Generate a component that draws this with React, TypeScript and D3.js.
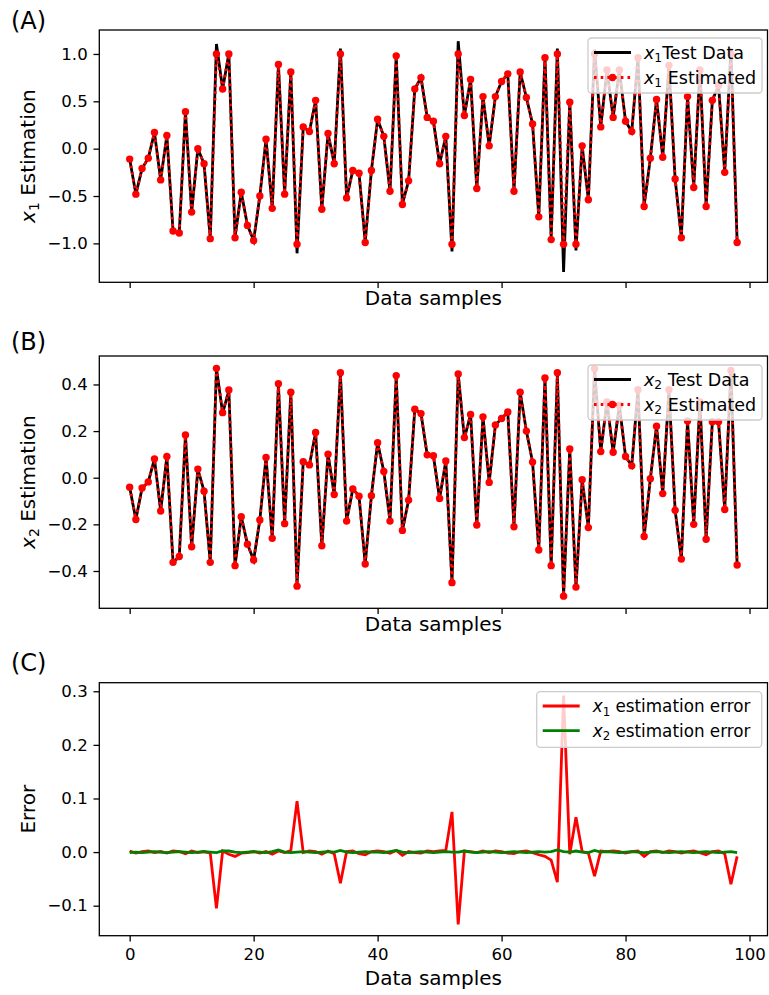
import React, { useRef, useEffect } from "react";
import * as d3 from "d3";

// sample index on the x axis
const sampleIdx = Array.from({ length: 99 }, (_, i) => i);

const xTicks = [0, 20, 40, 60, 80, 100];
const x1Ticks = [-1, -0.5, 0, 0.5, 1];
const x2Ticks = [-0.4, -0.2, 0, 0.2, 0.4];
const errTicks = [-0.1, 0, 0.1, 0.2, 0.3];

// (A) x1
const x1Est = [
  -0.11, -0.48, -0.21, -0.1, 0.17, -0.33, 0.14, -0.87, -0.89, 0.39,
  -0.67, 0.0, -0.16, -0.95, 1.0, 0.63, 1.0, -0.94, -0.46, -0.81,
  -0.97, -0.5, 0.1, -0.63, 0.89, -0.48, 0.81, -1.01, 0.23, 0.18,
  0.51, -0.64, 0.16, -0.16, 1.0, -0.52, -0.23, -0.26, -0.99, -0.23,
  0.31, 0.13, -0.45, 0.98, -0.59, -0.34, 0.63, 0.75, 0.33, 0.29,
  -0.16, 0.13, -1.01, 1.0, 0.35, 0.73, -0.42, 0.55, 0.03, 0.55,
  0.71, 0.79, -0.45, 0.81, 0.54, 0.26, -0.72, 0.96, -0.96, 1.0,
  -1.01, 0.49, -1.01, 0.03, -0.54, 1.0, 0.23, 0.83, 0.33, 0.83,
  0.29, 0.18, 0.96, -0.61, -0.1, 0.52, -0.09, 0.88, -0.32, -0.94,
  0.55, -0.41, 0.83, -0.61, 0.51, 0.67, -0.25, 1.0, -0.99,
];
const x1Test = [
  -0.11, -0.48, -0.21, -0.1, 0.17, -0.33, 0.14, -0.87, -0.89, 0.39,
  -0.67, 0.0, -0.16, -0.95, 1.105, 0.63, 1.004, -0.932, -0.46, -0.81,
  -0.97, -0.5, 0.1, -0.626, 0.89, -0.48, 0.81, -1.105, 0.23, 0.18,
  0.51, -0.636, 0.16, -0.16, 1.058, -0.52, -0.23, -0.257, -0.985, -0.23,
  0.31, 0.13, -0.45, 0.98, -0.584, -0.34, 0.63, 0.75, 0.33, 0.29,
  -0.16, 0.13, -1.085, 1.135, 0.35, 0.73, -0.42, 0.55, 0.03, 0.55,
  0.71, 0.79, -0.447, 0.81, 0.54, 0.26, -0.715, 0.968, -0.945, 1.056,
  -1.302, 0.494, -1.075, 0.03, -0.54, 1.045, 0.23, 0.83, 0.33, 0.83,
  0.29, 0.18, 0.96, -0.602, -0.1, 0.52, -0.09, 0.88, -0.32, -0.94,
  0.55, -0.41, 0.83, -0.605, 0.51, 0.67, -0.247, 1.06, -0.982,
];

// (B) x2
const x2Est = [
  -0.041, -0.179, -0.044, -0.018, 0.081, -0.143, 0.091, -0.363, -0.338, 0.183,
  -0.296, 0.037, -0.058, -0.363, 0.469, 0.279, 0.376, -0.377, -0.167, -0.285,
  -0.353, -0.181, 0.087, -0.26, 0.403, -0.197, 0.367, -0.465, 0.069, 0.055,
  0.194, -0.292, 0.101, -0.072, 0.45, -0.186, -0.048, -0.079, -0.37, -0.077,
  0.15, 0.027, -0.186, 0.438, -0.226, -0.096, 0.294, 0.275, 0.098, 0.094,
  -0.089, 0.072, -0.45, 0.445, 0.172, 0.271, -0.203, 0.261, -0.02, 0.226,
  0.254, 0.282, -0.21, 0.367, 0.2, 0.067, -0.31, 0.428, -0.377, 0.45,
  -0.508, 0.123, -0.469, -0.009, -0.214, 0.467, 0.112, 0.325, 0.109, 0.311,
  0.091, 0.051, 0.377, -0.252, -0.004, 0.221, -0.068, 0.377, -0.14, -0.349,
  0.243, -0.2, 0.325, -0.264, 0.24, 0.24, -0.136, 0.46, -0.374,
];
const x2Test = [
  -0.041, -0.179, -0.044, -0.018, 0.081, -0.143, 0.091, -0.363, -0.338, 0.183,
  -0.296, 0.037, -0.058, -0.363, 0.469, 0.277, 0.374, -0.377, -0.167, -0.285,
  -0.353, -0.181, 0.087, -0.26, 0.399, -0.197, 0.367, -0.465, 0.069, 0.055,
  0.194, -0.292, 0.101, -0.072, 0.447, -0.186, -0.048, -0.079, -0.37, -0.077,
  0.15, 0.027, -0.186, 0.435, -0.226, -0.096, 0.294, 0.275, 0.098, 0.094,
  -0.089, 0.072, -0.45, 0.445, 0.17, 0.271, -0.203, 0.261, -0.02, 0.226,
  0.254, 0.282, -0.21, 0.367, 0.2, 0.067, -0.31, 0.428, -0.377, 0.446,
  -0.508, 0.123, -0.471, -0.009, -0.214, 0.464, 0.112, 0.325, 0.109, 0.311,
  0.091, 0.051, 0.377, -0.252, -0.004, 0.221, -0.068, 0.377, -0.14, -0.349,
  0.243, -0.2, 0.325, -0.264, 0.24, 0.24, -0.136, 0.46, -0.374,
];

// (C) estimation errors
const err1 = [
  0.002, -0.002, 0.001, 0.002, -0.001, 0.001, -0.002, 0.002, 0.001, -0.003,
  0.002, -0.001, 0.001, -0.002, -0.105, 0.002, -0.004, -0.008, -0.002, -0.001,
  0.001, -0.002, 0.001, -0.004, 0.002, -0.001, 0.003, 0.095, -0.001, 0.002,
  0.001, -0.004, 0.002, -0.003, -0.058, 0.001, 0.002, -0.003, -0.005, 0.001,
  0.002, 0.001, -0.002, 0.003, -0.006, 0.001, -0.001, -0.002, 0.002, 0.001,
  0.002, 0.003, 0.075, -0.135, 0.002, 0.001, -0.001, 0.002, -0.001, 0.002,
  0.001, -0.002, -0.003, 0.001, 0.002, -0.001, -0.005, -0.008, -0.015, -0.056,
  0.292, -0.004, 0.065, 0.001, -0.002, -0.045, 0.002, 0.001, 0.002, 0.001,
  -0.002, 0.001, 0.002, -0.008, 0.001, 0.002, -0.001, 0.002, 0.001, -0.002,
  0.001, 0.002, -0.001, -0.005, 0.001, 0.002, -0.003, -0.06, -0.008,
];
const err2 = [
  -0.001, 0.0, -0.001, 0.0, 0.001, 0.0, -0.001, 0.0, 0.001, 0.0,
  -0.001, 0.0, 0.001, 0.0, -0.001, 0.002, 0.002, 0.0, -0.001, 0.0,
  0.001, 0.0, -0.001, 0.001, 0.004, 0.0, -0.001, 0.0, 0.001, 0.0,
  -0.001, 0.0, 0.001, 0.0, 0.003, 0.0, -0.001, 0.0, 0.001, 0.0,
  0.0, -0.001, 0.001, 0.003, 0.0, -0.001, 0.0, 0.001, 0.0, -0.001,
  0.0, 0.001, 0.0, 0.0, 0.002, 0.0, -0.001, 0.0, 0.001, 0.0,
  -0.001, 0.0, 0.001, 0.0, -0.001, 0.0, 0.001, 0.0, 0.001, 0.004,
  0.001, 0.0, 0.002, 0.0, -0.001, 0.003, 0.0, 0.001, 0.0, -0.001,
  0.0, 0.001, 0.0, -0.001, 0.0, 0.001, 0.0, -0.001, 0.0, 0.001,
  0.0, -0.001, 0.0, 0.001, 0.0, -0.001, 0.0, 0.001, -0.001,
];

const FONT = "'DejaVu Sans', sans-serif";
const LEFT = 99.3;
const RIGHT = 767.5;
const TICK = 16.6;
const LABEL = 20;
const DOTS = "2.6,4.1";
const LW = 2.8;
const MR = 3.7;

type Part = { t: string; it?: boolean; sub?: boolean };

// mathtext-ish label: italic x with a subscript digit
const mathText = (sel: any, parts: Part[], fs: number) => {
  let shifted = false;
  parts.forEach((p) => {
    const ts = sel.append("tspan").text(p.t);
    if (p.it) ts.attr("font-style", "italic");
    if (p.sub) {
      ts.attr("font-size", fs * 0.7).attr("dy", fs * 0.22);
      shifted = true;
    } else if (shifted) {
      ts.attr("dy", -fs * 0.22);
      shifted = false;
    }
  });
};

const x = d3.scaleLinear().domain([-4.9, 102.9]).range([LEFT, RIGHT]);

const App = () => {
  const svgRef = useRef<SVGSVGElement>(null);

  useEffect(() => {
    const svg = d3.select(svgRef.current);
    svg.selectAll("*").remove();

    const panel = (o: any) => {
      const y = d3.scaleLinear().domain(o.yDomain).range([o.bottom, o.top]);
      const g = svg.append("g");

      g.append("clipPath")
        .attr("id", o.id)
        .append("rect")
        .attr("x", LEFT)
        .attr("y", o.top)
        .attr("width", RIGHT - LEFT)
        .attr("height", o.bottom - o.top);

      // y axis
      g.append("g")
        .attr("transform", `translate(${LEFT},0)`)
        .call(
          d3.axisLeft(y).tickValues(o.yTicks).tickFormat(d3.format(".1f")).tickSize(5.8).tickPadding(5.8)
        )
        .call((a) => a.select(".domain").remove())
        .call((a) => a.selectAll("line").attr("stroke-width", 1.3))
        .call((a) =>
          a.selectAll("text").attr("font-size", TICK).attr("font-family", FONT).attr("fill", "#000")
        );

      // x axis (labels only on the last panel)
      g.append("g")
        .attr("transform", `translate(0,${o.bottom})`)
        .call(
          d3
            .axisBottom(x)
            .tickValues(xTicks)
            .tickFormat(o.xLabels ? d3.format("d") : () => "")
            .tickSize(5.8)
            .tickPadding(7)
        )
        .call((a) => a.select(".domain").remove())
        .call((a) => a.selectAll("line").attr("stroke-width", 1.3))
        .call((a) =>
          a.selectAll("text").attr("font-size", TICK).attr("font-family", FONT).attr("fill", "#000")
        );

      const plot = g.append("g").attr("clip-path", `url(#${o.id})`);
      const line = d3
        .line<number>()
        .x((_, i) => x(sampleIdx[i]))
        .y((d) => y(d));

      // frame
      g.append("rect")
        .attr("x", LEFT)
        .attr("y", o.top)
        .attr("width", RIGHT - LEFT)
        .attr("height", o.bottom - o.top)
        .attr("fill", "none")
        .attr("stroke", "#000")
        .attr("stroke-width", 1.3);

      // axis titles
      g.append("text")
        .attr("x", (LEFT + RIGHT) / 2)
        .attr("y", o.xTitleY)
        .attr("text-anchor", "middle")
        .attr("font-family", FONT)
        .attr("font-size", LABEL)
        .text("Data samples");

      const yt = g
        .append("text")
        .attr("transform", `translate(35,${(o.top + o.bottom) / 2}) rotate(-90)`)
        .attr("text-anchor", "middle")
        .attr("font-family", FONT)
        .attr("font-size", LABEL)
        .style("white-space", "pre");
      mathText(yt, o.yTitle, LABEL);

      g.append("text")
        .attr("x", 11)
        .attr("y", o.tagY)
        .attr("font-family", FONT)
        .attr("font-size", 24)
        .text(o.tag);

      return { g, y, plot, line };
    };

    const legend = (g: any, o: any) => {
      const lg = g.append("g");
      lg.append("rect")
        .attr("x", o.x)
        .attr("y", o.y)
        .attr("width", o.w)
        .attr("height", o.h)
        .attr("rx", 3.5)
        .attr("fill", "#fff")
        .attr("fill-opacity", 0.8)
        .attr("stroke", "#cccccc")
        .attr("stroke-width", 1.3);
      o.rows.forEach((r: any) => {
        const hx0 = o.x + 6;
        const hx1 = hx0 + 37;
        lg.append("line")
          .attr("x1", hx0)
          .attr("x2", hx1)
          .attr("y1", r.cy)
          .attr("y2", r.cy)
          .attr("stroke", r.color)
          .attr("stroke-width", LW)
          .attr("stroke-dasharray", r.dash || null);
        if (r.marker) {
          lg.append("circle")
            .attr("cx", (hx0 + hx1) / 2)
            .attr("cy", r.cy)
            .attr("r", MR)
            .attr("fill", r.color);
        }
        const t = lg
          .append("text")
          .attr("x", hx1 + 13)
          .attr("y", r.cy + o.fs * 0.35)
          .attr("font-family", FONT)
          .attr("font-size", o.fs)
          .style("white-space", "pre");
        mathText(t, r.label, o.fs);
      });
    };

    const estPanel = (o: any, test: number[], est: number[], sub: string, testLabel: string) => {
      const { g, y, plot, line } = panel(o);
      plot.append("path").attr("d", line(test)).attr("fill", "none").attr("stroke", "#000").attr("stroke-width", LW);
      plot
        .append("path")
        .attr("d", line(est))
        .attr("fill", "none")
        .attr("stroke", "#ff0000")
        .attr("stroke-width", LW)
        .attr("stroke-dasharray", DOTS);
      plot
        .selectAll("circle")
        .data(est)
        .join("circle")
        .attr("cx", (_: number, i: number) => x(sampleIdx[i]))
        .attr("cy", (d: number) => y(d))
        .attr("r", MR)
        .attr("fill", "#ff0000");
      legend(g, {
        x: 588,
        y: o.top + o.legendDy,
        w: 174,
        h: 55,
        fs: 17.5,
        rows: [
          { cy: o.top + o.legendDy + 14.5, color: "#000", label: [{ t: "x", it: true }, { t: sub, sub: true }, { t: testLabel }] },
          {
            cy: o.top + o.legendDy + 39.5,
            color: "#ff0000",
            dash: DOTS,
            marker: true,
            label: [{ t: "x", it: true }, { t: sub, sub: true }, { t: " Estimated" }],
          },
        ],
      });
    };

    estPanel(
      {
        id: "clipA",
        top: 30,
        bottom: 282.3,
        yDomain: [-1.411, 1.253],
        yTicks: x1Ticks,
        xTitleY: 305,
        yTitle: [{ t: "x", it: true }, { t: "1", sub: true }, { t: " Estimation" }],
        tag: "(A)",
        tagY: 29,
        legendDy: 8,
      },
      x1Test,
      x1Est,
      "1",
      "Test Data"
    );

    estPanel(
      {
        id: "clipB",
        top: 356,
        bottom: 608.3,
        yDomain: [-0.56, 0.522],
        yTicks: x2Ticks,
        xTitleY: 631,
        yTitle: [{ t: "x", it: true }, { t: "2", sub: true }, { t: " Estimation" }],
        tag: "(B)",
        tagY: 350,
        legendDy: 9,
      },
      x2Test,
      x2Est,
      "2",
      " Test Data"
    );

    const c = panel({
      id: "clipC",
      top: 682.7,
      bottom: 935.7,
      yDomain: [-0.156, 0.316],
      yTicks: errTicks,
      xLabels: true,
      xTitleY: 985,
      yTitle: [{ t: "Error" }],
      tag: "(C)",
      tagY: 671,
    });
    c.plot.append("path").attr("d", c.line(err1)).attr("fill", "none").attr("stroke", "#ff0000").attr("stroke-width", LW);
    c.plot.append("path").attr("d", c.line(err2)).attr("fill", "none").attr("stroke", "#008000").attr("stroke-width", LW);
    legend(c.g, {
      x: 536.7,
      y: 691.7,
      w: 225,
      h: 55.6,
      fs: 16.8,
      rows: [
        { cy: 706, color: "#ff0000", label: [{ t: "x", it: true }, { t: "1", sub: true }, { t: " estimation error" }] },
        { cy: 730.7, color: "#008000", label: [{ t: "x", it: true }, { t: "2", sub: true }, { t: " estimation error" }] },
      ],
    });
  }, []);

  return (
    <svg
      ref={svgRef}
      width={769}
      height={995}
      style={{ position: "absolute", left: 0, top: 0, background: "#fff" }}
    />
  );
};

export default App;
